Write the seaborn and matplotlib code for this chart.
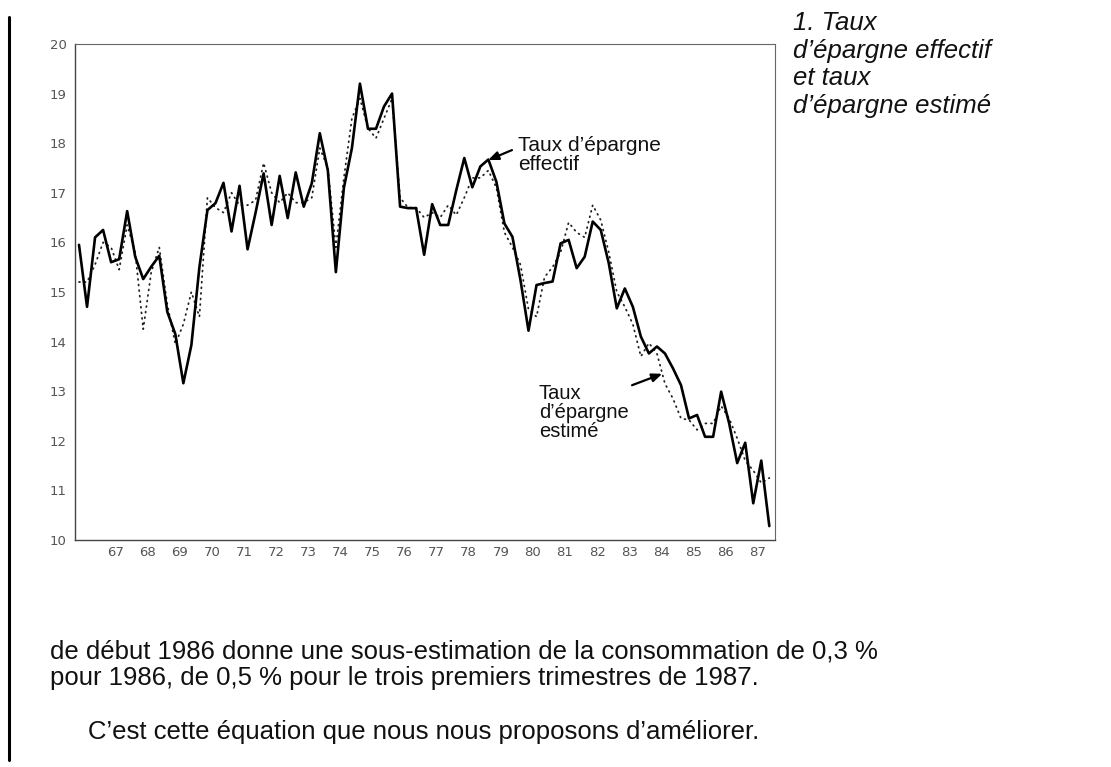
"""
Taux d'épargne effectif et taux d'épargne estimé, 1966-1987 (trimestriel).
Recreates the scanned page figure with seaborn line plots.
"""

import matplotlib
matplotlib.use("Agg")
import matplotlib.pyplot as plt
from matplotlib.lines import Line2D
import numpy as np
import pandas as pd
import seaborn as sns

# ─── Data (quarterly, 1966Q1 → 1987Q3) ───────────────────────────────────────
FIRST_QUARTER = "1966Q1"
LAST_QUARTER = "1987Q3"

effectif = [
    15.95, 14.70, 16.10, 16.25, 15.60, 15.66, 16.63, 15.71,   # 66-67
    15.26, 15.51, 15.73, 14.60, 14.15, 13.16, 13.93, 15.50,   # 68-69
    16.65, 16.79, 17.20, 16.22, 17.14, 15.86, 16.60, 17.39,   # 70-71
    16.35, 17.34, 16.49, 17.41, 16.72, 17.19, 18.20, 17.45,   # 72-73
    15.40, 17.10, 17.90, 19.20, 18.29, 18.29, 18.74, 19.00,   # 74-75
    16.72, 16.69, 16.69, 15.75, 16.77, 16.35, 16.35, 17.05,   # 76-77
    17.70, 17.11, 17.53, 17.67, 17.22, 16.38, 16.11, 15.24,   # 78-79
    14.22, 15.14, 15.18, 15.21, 15.98, 16.05, 15.48, 15.71,   # 80-81
    16.42, 16.25, 15.58, 14.67, 15.07, 14.70, 14.10, 13.76,   # 82-83
    13.90, 13.76, 13.46, 13.12, 12.45, 12.52, 12.08, 12.08,   # 84-85
    12.99, 12.35, 11.55, 11.96, 10.74, 11.60, 10.28,          # 86-87
]

estime = [
    15.20, 15.20, 15.55, 16.00, 15.90, 15.45, 16.35, 15.80,
    14.25, 15.40, 15.90, 14.75, 13.95, 14.35, 15.00, 14.50,
    16.90, 16.70, 16.60, 17.00, 16.75, 16.75, 16.85, 17.60,
    17.00, 16.80, 17.00, 16.80, 16.80, 16.90, 17.90, 17.50,
    15.90, 17.30, 18.50, 18.90, 18.30, 18.10, 18.50, 18.90,
    16.90, 16.70, 16.70, 16.50, 16.60, 16.50, 16.75, 16.55,
    16.90, 17.30, 17.30, 17.45, 17.10, 16.20, 15.90, 15.55,
    14.65, 14.50, 15.30, 15.50, 15.80, 16.40, 16.20, 16.10,
    16.75, 16.45, 15.80, 15.00, 14.70, 14.35, 13.70, 13.97,
    13.76, 13.15, 12.85, 12.45, 12.42, 12.22, 12.35, 12.35,
    12.70, 12.45, 12.05, 11.60, 11.40, 11.15, 11.25,
]

year_ticks = list(range(1966, 1988))
year_labels = [""] + [str(y)[2:] for y in range(1967, 1988)]
y_ticks = list(range(10, 21))

TITLE = "1. Taux\nd’épargne effectif\net taux\nd’épargne estimé"
BODY_1 = "de début 1986 donne une sous-estimation de la consommation de 0,3 %"
BODY_2 = "pour 1986, de 0,5 % pour le trois premiers trimestres de 1987."
BODY_3 = "C’est cette équation que nous nous proposons d’améliorer."

AXIS_GREY = "#555555"


def build_frame() -> pd.DataFrame:
    q = pd.period_range(FIRST_QUARTER, LAST_QUARTER, freq="Q")
    x = q.year + (q.quarter - 0.5) / 4.0
    return pd.DataFrame({"t": x, "effectif": effectif, "estime": estime})


def plot(df: pd.DataFrame, path: str = "out.png") -> None:
    sns.set_style("white")
    plt.rcParams["font.family"] = ["Liberation Sans", "DejaVu Sans"]

    fig = plt.figure(figsize=(11.11, 7.67), dpi=100)
    fig.patch.set_facecolor("white")
    ax = fig.add_axes([0.0675, 0.296, 0.630, 0.6467])

    sns.lineplot(data=df, x="t", y="estime", ax=ax, color="#222222",
                 linewidth=1.3)
    ax.lines[-1].set_linestyle((0, (0.5, 2.6)))
    ax.lines[-1].set_dash_capstyle("round")
    sns.lineplot(data=df, x="t", y="effectif", ax=ax, color="black",
                 linewidth=1.9)

    ax.set_xlim(1966, 1987.8)
    ax.set_ylim(10, 20)
    ax.set_xlabel("")
    ax.set_ylabel("")

    ax.set_xticks(year_ticks)
    ax.set_xticklabels(year_labels, ha="left", fontsize=9.5,
                       family="DejaVu Sans", color=AXIS_GREY)
    ax.set_yticks(y_ticks)
    ax.set_yticklabels([str(v) for v in y_ticks], fontsize=9.5,
                       family="DejaVu Sans", color=AXIS_GREY)
    ax.tick_params(axis="x", direction="in", length=5, width=0.8,
                   colors=AXIS_GREY, pad=4)
    ax.tick_params(axis="y", direction="inout", length=6, width=0.8,
                   colors=AXIS_GREY, pad=3)
    for side, spine in ax.spines.items():
        spine.set_visible(True)
        spine.set_color("#444444" if side in ("left", "bottom") else "#666666")
        spine.set_linewidth(1.0 if side in ("left", "bottom") else 0.8)

    # annotations
    ax.text(1979.80, 18.15, "Taux d’épargne\neffectif", fontsize=15,
            va="top", ha="left", linespacing=1.0, color="#111111")
    ax.annotate("", xy=(1978.87, 17.66), xytext=(1979.61, 17.86),
                arrowprops=dict(arrowstyle="-|>,head_length=0.6,head_width=0.25",
                                color="black", lw=1.6, shrinkA=0, shrinkB=0))
    ax.text(1980.45, 13.14, "Taux\nd’épargne\nestimé", fontsize=14.5,
            va="top", ha="left", linespacing=1.0, color="#111111")
    ax.annotate("", xy=(1984.29, 13.35), xytext=(1983.35, 13.12),
                arrowprops=dict(arrowstyle="-|>,head_length=0.6,head_width=0.25",
                                color="black", lw=1.6, shrinkA=0, shrinkB=0))

    # page furniture
    fig.text(0.714, 0.986, TITLE, fontsize=18.5, style="italic", va="top",
             ha="left", linespacing=1.2, color="#111111")
    fig.text(0.045, 0.151, BODY_1, fontsize=18.5, va="center", ha="left",
             color="#111111")
    fig.text(0.045, 0.116, BODY_2, fontsize=18.5, va="center", ha="left",
             color="#111111")
    fig.text(0.079, 0.046, BODY_3, fontsize=18.5, va="center", ha="left",
             color="#111111")
    fig.add_artist(Line2D([0.0085, 0.0085], [0.009, 0.978], color="black",
                          linewidth=2.2, transform=fig.transFigure))

    fig.savefig(path, dpi=100)
    plt.close(fig)


if __name__ == "__main__":
    plot(build_frame())
